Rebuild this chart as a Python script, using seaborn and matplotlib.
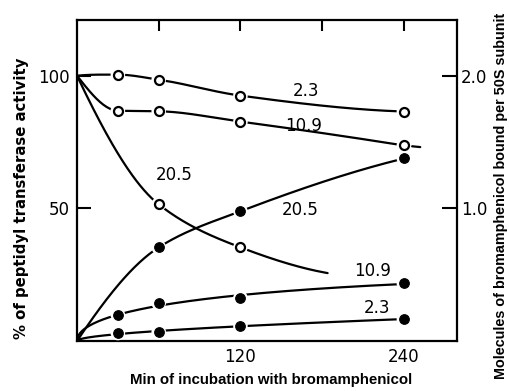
import numpy as np
import pandas as pd
import matplotlib
matplotlib.use("Agg")
import matplotlib.pyplot as plt
import seaborn as sns

# ---------------- data ----------------
times = [0, 30, 60, 120, 240]          # min
# % peptidyl transferase activity (open circles)
act_2_3 = [100, 100.4, 98.5, 92.5, 86.5]
act_10_9 = [100, 86.8, 86.6, 82.7, 73.7]
act_20_5_t = [0, 60, 120, 184]
act_20_5 = [100, 51.5, 35.3, 25.6]
# bound bromamphenicol, plotted on % scale (50 % = 1.0 molecule) (filled circles)
bnd_2_3 = [0, 3.0, 3.4, 5.6, 8.3]
bnd_10_9 = [0, 9.8, 14.3, 16.2, 21.8]
bnd_20_5_t = [0, 60, 120, 240]
bnd_20_5 = [0, 35.3, 48.9, 68.8]

xticks = [60, 120, 180, 240]
xticklabels = ["", "120", "", "240"]
yticks = [50, 100]
yticklabels = ["50", "100"]
rticks = [1.0, 2.0]
rticklabels = ["1.0", "2.0"]


def pchip(x, y, n=200):
    x = np.asarray(x, float); y = np.asarray(y, float)
    h = np.diff(x); d = np.diff(y) / h
    m = np.zeros_like(y)
    for k in range(1, len(x) - 1):
        if d[k - 1] * d[k] <= 0:
            m[k] = 0
        else:
            w1 = 2 * h[k] + h[k - 1]; w2 = h[k] + 2 * h[k - 1]
            m[k] = (w1 + w2) / (w1 / d[k - 1] + w2 / d[k])
    m[0] = ((2 * h[0] + h[1]) * d[0] - h[0] * d[1]) / (h[0] + h[1])
    if np.sign(m[0]) != np.sign(d[0]):
        m[0] = 0
    m[-1] = ((2 * h[-1] + h[-2]) * d[-1] - h[-1] * d[-2]) / (h[-1] + h[-2])
    if np.sign(m[-1]) != np.sign(d[-1]):
        m[-1] = 0
    xs = np.linspace(x[0], x[-1], n)
    idx = np.clip(np.searchsorted(x, xs) - 1, 0, len(x) - 2)
    t = (xs - x[idx]) / h[idx]
    h00 = 2 * t**3 - 3 * t**2 + 1; h10 = t**3 - 2 * t**2 + t
    h01 = -2 * t**3 + 3 * t**2; h11 = t**3 - t**2
    ys = h00 * y[idx] + h10 * h[idx] * m[idx] + h01 * y[idx + 1] + h11 * h[idx] * m[idx + 1]
    return xs, ys


def sqrtfit(x, y, n=200):
    """Smooth least-squares curve through the origin, y = a*sqrt(t) + b*t."""
    x = np.asarray(x, float); y = np.asarray(y, float)
    s = np.sqrt(x)
    A = np.column_stack([s, s**2])
    coef, *_ = np.linalg.lstsq(A, y, rcond=None)
    xs = np.linspace(0, x[-1], n)
    ss = np.sqrt(xs)
    return xs, coef[0] * ss + coef[1] * ss**2


sns.set_style("white")
plt.rcParams["font.family"] = ["DejaVu Sans"]
plt.rcParams["text.color"] = "black"
fig = plt.figure(figsize=(5.10, 3.91), dpi=100)
ax = fig.add_axes([77 / 510, 1 - 341 / 391, 380 / 510, 321 / 391])

series = [
    (times, act_2_3, "open", pchip),
    (times, act_10_9, "open", pchip),
    (act_20_5_t, act_20_5, "open_end", pchip),
    (times, bnd_2_3, "filled", sqrtfit),
    (times, bnd_10_9, "filled", sqrtfit),
    (bnd_20_5_t, bnd_20_5, "filled", pchip),
]

for tx, vy, kind, smoother in series:
    xs, ys = smoother(tx, vy)
    df = pd.DataFrame({"x": xs, "y": ys})
    sns.lineplot(data=df, x="x", y="y", ax=ax, color="black", lw=1.6, sort=False, zorder=2)
    if kind == "open_end":
        mx, my = tx[1:-1], vy[1:-1]
    else:
        mx, my = tx[1:], vy[1:]
    pts = pd.DataFrame({"x": mx, "y": my})
    sns.scatterplot(data=pts, x="x", y="y", ax=ax, s=110, color="white",
                    edgecolor="none", zorder=3)
    if kind == "filled":
        sns.scatterplot(data=pts, x="x", y="y", ax=ax, s=48, color="black",
                        edgecolor="black", linewidth=0.8, zorder=4)
    else:
        sns.scatterplot(data=pts, x="x", y="y", ax=ax, s=42, color="white",
                        edgecolor="black", linewidth=1.6, zorder=4)

# short extension of the 10.9 activity curve past 240 min
ax.plot([246, 252], [73.4, 73.1], color="black", lw=1.6)

ax.set_xlim(0, 279)
ax.set_ylim(0, 121)
ax.set_xticks(xticks)
ax.set_xticklabels(xticklabels)
ax.set_yticks(yticks)
ax.set_yticklabels(yticklabels)
ax.tick_params(axis="x", direction="in", length=8, width=1.5, top=True, pad=5,
               labelsize=12, colors="black")
ax.tick_params(axis="y", direction="in", length=10, width=1.5, pad=5,
               labelsize=12, colors="black")
ax.set_xlabel(""); ax.set_ylabel("")
for sp in ax.spines.values():
    sp.set_visible(True)
    sp.set_linewidth(1.6)
    sp.set_color("black")

ax2 = ax.twinx()
ax2.set_ylim(0, 121 / 50)
ax2.set_yticks(rticks)
ax2.set_yticklabels(rticklabels)
ax2.tick_params(axis="y", direction="in", length=11, width=1.5, pad=3,
                labelsize=12, colors="black")
for sp in ax2.spines.values():
    sp.set_visible(False)

# curve labels
lab = dict(fontsize=12, color="black", ha="center", va="center")
ax.text(168, 94.4, "2.3", **lab)
ax.text(166, 81.2, "10.9", **lab)
ax.text(71, 62.4, "20.5", **lab)
ax.text(164, 49.2, "20.5", **lab)
ax.text(217, 26.3, "10.9", **lab)
ax.text(220, 12.4, "2.3", **lab)

fig.text(271 / 510, 1 - 380 / 391, "Min of incubation with bromamphenicol",
         ha="center", va="center", fontsize=10.8, family=["Liberation Sans"],
         fontweight="bold", color="black")
fig.text(22 / 510, 1 - 198 / 391, "% of peptidyl transferase activity",
         ha="center", va="center", rotation=90, fontsize=10.7, fontweight="bold",
         color="black")
fig.text(501 / 510, 1 - 196 / 391, "Molecules of bromamphenicol bound per 50S subunit",
         ha="center", va="center", rotation=90, fontsize=10.4, family=["Liberation Sans"],
         fontweight="bold", color="black")

fig.savefig("out.png", dpi=100)
